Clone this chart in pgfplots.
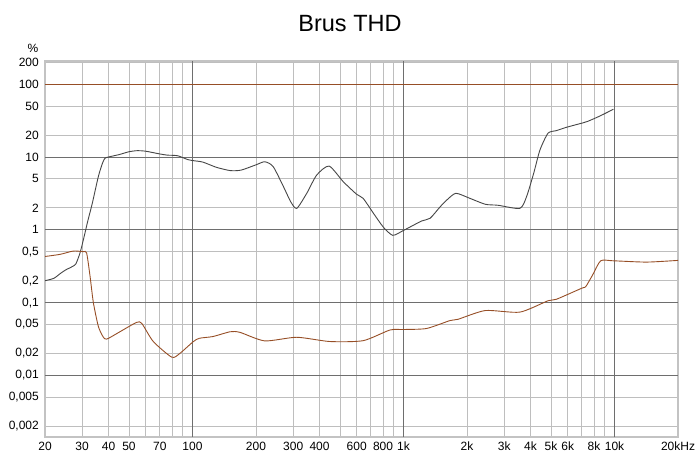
\documentclass[border=0pt]{standalone}
\usepackage{pgfplots}
\pgfplotsset{compat=1.18}
\usepackage{fontspec}
\setmainfont{Liberation Sans}
\definecolor{thdgray}{RGB}{70,70,70}
\definecolor{thdbrown}{RGB}{150,78,38}
\definecolor{gridmaj}{RGB}{110,110,110}
\definecolor{gridmin}{RGB}{190,190,190}
\definecolor{framec}{RGB}{195,195,195}
\begin{document}
\begin{tikzpicture}[x=1pt,y=1pt]
\path (0,0) rectangle (700,463);
\node[anchor=base,font=\fontsize{23.5}{26}\selectfont] at (350,431.3) {Brus THD};
\node[anchor=base,font=\fontsize{12}{14}\selectfont] at (33,410) {\%};
\begin{axis}[
  at={(45pt,26pt)}, anchor=south west,
  scale only axis, width=633pt, height=376pt,
  xmode=log, ymode=log,
  xmin=20, xmax=20000, ymin=0.001426, ymax=208,
  axis line style={draw=framec, line width=2.2pt},
  tick style={draw=none},
  major tick length=0pt, minor tick length=0pt,
  ticklabel style={font=\fontsize{12}{14}\selectfont},
  xtick={20,30,40,50,70,100,200,300,400,600,800,1000,2000,3000,4000,5000,6000,8000,10000,20000},
  xticklabels={20,30,40,50,70,100,200,300,400,600,800,1k,2k,3k,4k,5k,6k,8k,10k,20kHz},
  minor xtick={30,40,50,60,70,80,90,200,300,400,500,600,700,800,900,2000,3000,4000,5000,6000,7000,8000,9000},
  ytick={0.002,0.005,0.01,0.02,0.05,0.1,0.2,0.5,1,2,5,10,20,50,100,200},
  yticklabels={{0,002},{0,005},{0,01},{0,02},{0,05},{0,1},{0,2},{0,5},1,2,5,10,20,50,100,200},
  minor ytick={0.002,0.005,0.02,0.05,0.2,0.5,2,5,20,50,200},
  xmajorgrids=false, ymajorgrids=false,
  xminorgrids=true, yminorgrids=true,
  minor grid style={draw=gridmin, line width=0.8pt},
  extra x ticks={100,1000,10000}, extra x tick labels={},
  extra y ticks={0.01,0.1,1,10,100}, extra y tick labels={},
  extra tick style={grid=major, major grid style={draw=gridmaj, line width=0.8pt}},
  xticklabel style={anchor=north, inner sep=0pt, yshift=-5pt},
  yticklabel style={anchor=east, inner sep=0pt, xshift=-6pt},
  axis on top=false,
  clip=true,
]
\addplot[thdbrown, line width=1.2pt] coordinates {(20,100) (20000,100)};
\addplot[thdgray, line width=0.9pt, smooth, tension=0.4] coordinates {
(20,0.20) (22,0.215) (23.6,0.25) (25,0.28) (26.8,0.31) (28,0.34) (29.3,0.48)
(30.4,0.73) (32,1.37) (33.5,2.3) (35.8,5.4) (37.5,8.3) (38.5,9.6) (40,10.0)
(45,10.8) (50,11.8) (54.6,12.2) (60,12.0) (70,11.0) (76,10.6) (85,10.4)
(95,9.2) (101,8.9) (112,8.5) (130,7.2) (151,6.5) (170,6.6) (200,7.8)
(220,8.6) (241,7.4) (270,3.9) (292,2.43) (312,1.97) (348,3.17) (388,5.65)
(444,7.5) (518,4.58) (600,3.07) (644,2.7) (720,1.69) (804,1.08) (890,0.84)
(1000,0.98) (1218,1.32) (1337,1.44) (1492,2.07) (1606,2.57) (1772,3.17)
(2066,2.7) (2443,2.24) (2810,2.17) (3560,1.97) (3830,2.85) (4140,5.97)
(4430,12.4) (4840,21.2) (5300,23) (5930,25.6) (7140,29.6) (7500,31)
(8540,36.6) (9880,45.2)
};
\addplot[thdbrown, line width=0.9pt, smooth, tension=0.4] coordinates {
(20,0.43) (23.6,0.46) (27.2,0.51) (30.4,0.50) (31.5,0.48) (32.7,0.23)
(33.9,0.10) (35.8,0.047) (37.7,0.034) (39.2,0.0315) (45.3,0.0398)
(54.3,0.0534) (57.5,0.0518) (65.2,0.0292) (79.8,0.0178) (87.2,0.0201)
(101,0.0292) (108,0.0324) (125,0.0342) (151,0.0398) (168,0.039)
(220,0.0298) (312,0.0334) (448,0.0292) (644,0.030) (862,0.042)
(1000,0.0427) (1286,0.0441) (1662,0.0567) (1814,0.059) (2443,0.0778)
(3560,0.074) (4840,0.106) (5300,0.111) (7010,0.158) (7300,0.165)
(7880,0.24) (8600,0.375) (9880,0.375) (14200,0.36) (20000,0.38)
};
\end{axis}
\end{tikzpicture}
\end{document}
